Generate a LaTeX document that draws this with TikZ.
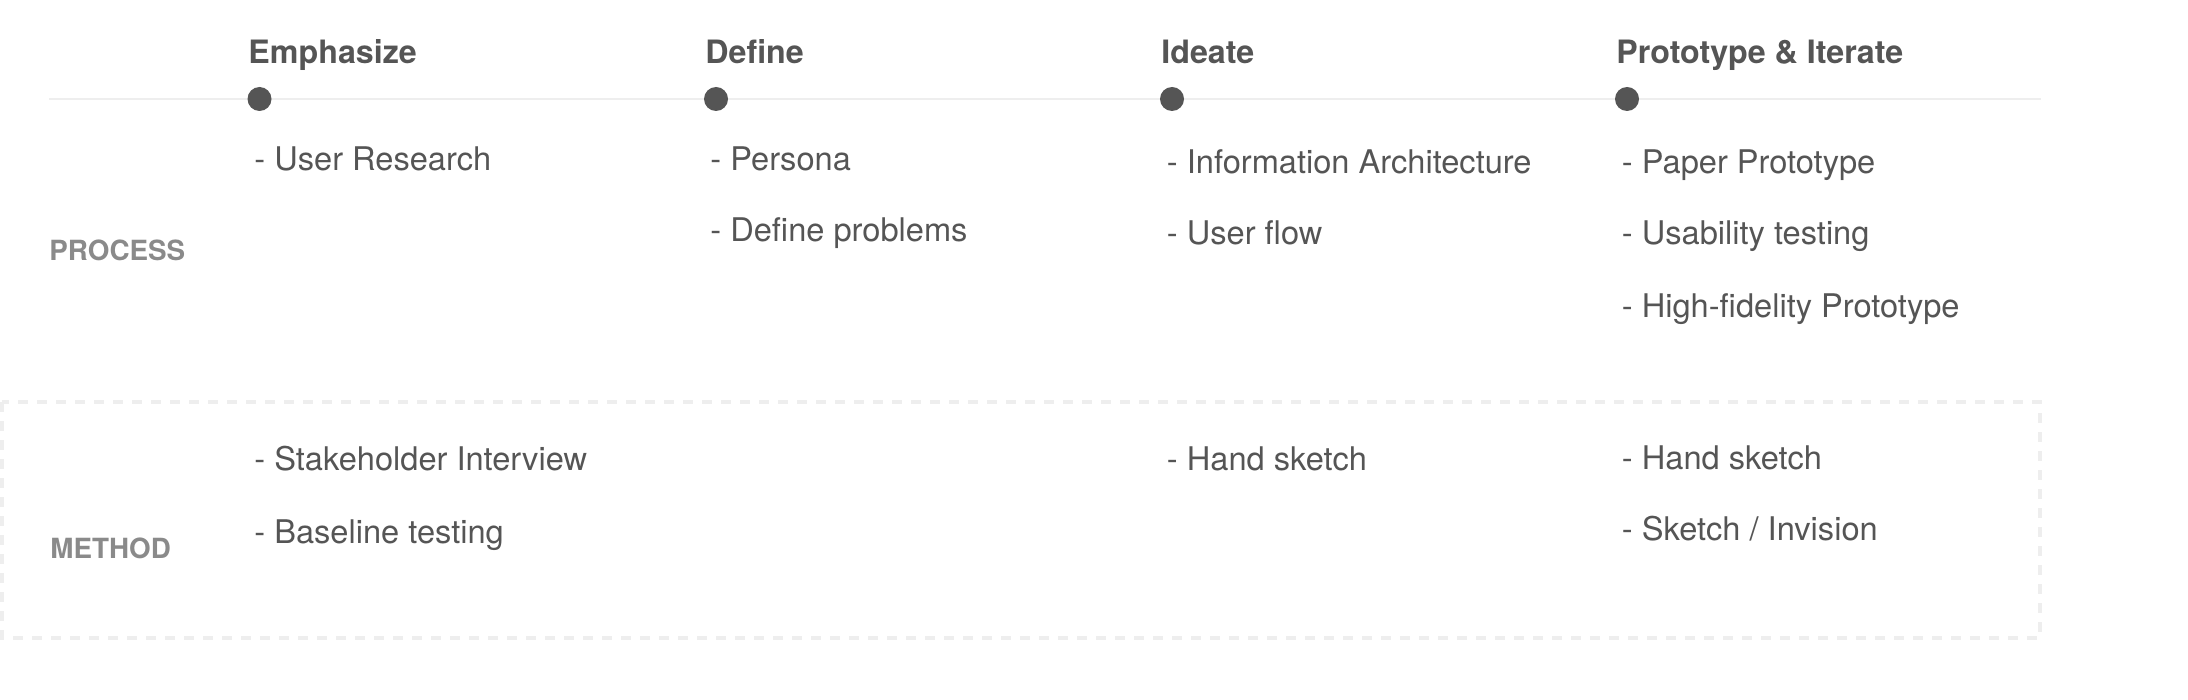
\documentclass[tikz,border=0pt]{standalone}
\usepackage{fontspec}
\setmainfont{TeX Gyre Heros}
\definecolor{txt}{HTML}{555555}
\definecolor{lbl}{HTML}{8A8A8A}
\definecolor{rule}{HTML}{EEEEEE}
\begin{document}
\begin{tikzpicture}[x=0.5pt,y=-0.5pt,
  head/.style={anchor=base west,inner sep=0pt,text=txt,font=\fontsize{16.1}{19}\selectfont\bfseries},
  item/.style={anchor=base west,inner sep=0pt,text=txt,font=\fontsize{16.3}{19}\selectfont},
  side/.style={anchor=base west,inner sep=0pt,text=lbl,font=\fontsize{13.9}{17}\selectfont\bfseries},
  dot/.style={circle,fill=txt,inner sep=0pt,minimum size=12pt},
  tline/.style={draw=rule,line width=1pt},
  mbox/.style={draw=rule,line width=1.6pt,dash pattern=on 5pt off 4.5pt}]
\useasboundingbox (0,0) rectangle (2188,700);
% method box
\draw[mbox] (2,402) rectangle (2040,638);
% timeline
\coordinate (ls) at (49,99);
\coordinate (le) at (2041,99);
\draw[tline] (ls) -- (le);
\node[dot] (d1) at (259.5,99) {};
\node[dot] (d2) at (716,99) {};
\node[dot] (d3) at (1172,99) {};
\node[dot] (d4) at (1627,99) {};
% headings
\node[head] (h1) at (248,64) {Emphasize};
\node[head] (h2) at (705,64) {Define};
\node[head] (h3) at (1161,64) {Ideate};
\node[head] (h4) at (1616,64) {Prototype \& Iterate};
% side labels
\node[side] (proc) at (49,261) {PROCESS};
\node[side] (meth) at (50,558) {METHOD};
% process items
\node[item] (p11) at (254,170.5) {- User Research};
\node[item] (p21) at (710,170.5) {- Persona};
\node[item] (p22) at (710,242) {- Define problems};
\node[item] (p31) at (1166.5,173.5) {- Information Architecture};
\node[item] (p32) at (1166.5,244.5) {- User flow};
\node[item] (p41) at (1621.5,173.5) {- Paper Prototype};
\node[item] (p42) at (1621.5,244.5) {- Usability testing};
\node[item] (p43) at (1621.5,317) {- High-fidelity Prototype};
% method items
\node[item] (m11) at (254,470.5) {- Stakeholder Interview};
\node[item] (m12) at (254,543) {- Baseline testing};
\node[item] (m31) at (1166.5,470.5) {- Hand sketch};
\node[item] (m41) at (1621.5,469) {- Hand sketch};
\node[item] (m42) at (1621.5,540.5) {- Sketch / Invision};
\end{tikzpicture}
\end{document}
